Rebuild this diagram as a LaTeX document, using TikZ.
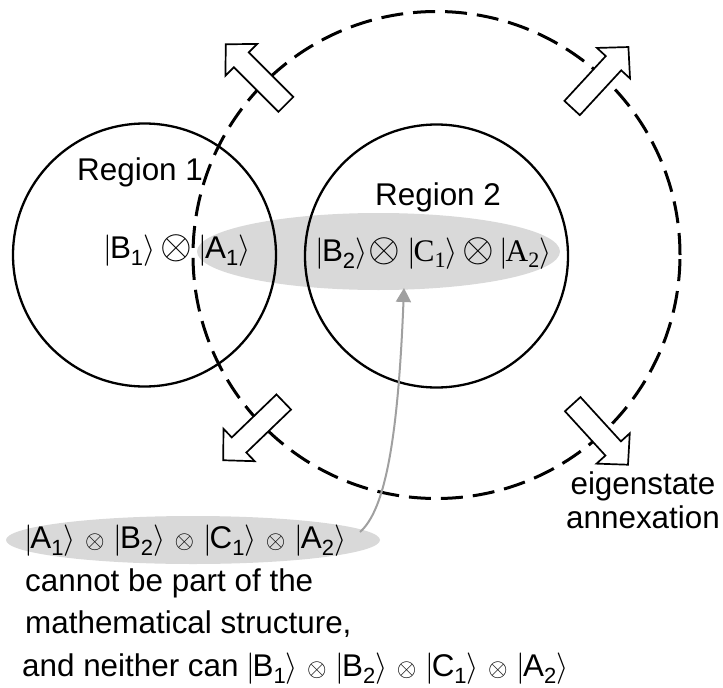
\documentclass[tikz,border=0pt]{standalone}
\DeclareFontShape{OMS}{cmsy}{m}{n}{<->cmsy10}{}
\DeclareFontShape{OMS}{cmsy}{b}{n}{<->cmbsy10}{}
\DeclareFontShape{OML}{cmm}{m}{it}{<->cmmi10}{}
\DeclareFontShape{OMX}{cmex}{m}{n}{<->cmex10}{}
\usepackage{fontspec}
\setmainfont{Liberation Sans}
\newfontfamily\seriffont{Liberation Serif}
\usepackage{graphicx}
\usetikzlibrary{arrows.meta,shapes.geometric}
\definecolor{ellgray}{RGB}{217,217,217}
\definecolor{arrgray}{RGB}{160,160,160}
\newcommand\sbs[1]{\raisebox{-0.45ex}{\fontsize{22}{22}\selectfont #1}}
\newcommand\kb[2]{\kern-1pt\relax$|$\kern-2.5pt\relax#1\sbs{#2}$\rangle$\kern-1pt\relax}
\newcommand\kbs[2]{\kern-1pt\relax$|$\kern-2.5pt\relax{\seriffont #1\sbs{#2}}$\rangle$\kern-1pt\relax}
\newcommand\sotimes{\kern1.5pt\relax\scalebox{0.8}{$\otimes$}\kern1.5pt\relax}
\newcommand\botimes{\scalebox{1.3}{$\otimes$}}
\begin{document}
\begin{tikzpicture}[x=1pt,y=-1pt,
  txt/.style={font=\fontsize{31.4}{35}\selectfont, inner sep=0pt, anchor=base west},
  grayell/.style={ellipse, fill=ellgray, inner sep=0pt},
  region/.style={circle, draw, line width=2.3pt, inner sep=0pt, minimum size=263pt},
  bigdash/.style={circle, draw, line width=3pt, dash pattern=on 22pt off 10pt, inner sep=0pt, minimum size=487pt},
  blockarr/.style={draw, fill=white, line width=1.7pt, line join=miter},
  conn/.style={draw=arrgray, line width=2pt, -{Triangle[width=15pt,length=14pt,fill=arrgray]}}]
\useasboundingbox (0,0) rectangle (723,688);
% gray ellipses
\node[grayell, minimum width=363pt, minimum height=77pt] (topell) at (378.5,251.5) {};
\node[grayell, minimum width=374pt, minimum height=48pt] (botell) at (193,540) {};
% circles
\node[region] (reg1) at (144.5,255) {};
\node[region] (reg2) at (436.5,256) {};
\node[bigdash] (ann) at (436.5,255) {};
% block arrows
\foreach \ang/\ra/\rb in {135/213/298, 47.3/200/283, 223.9/212/296, 312.4/202/284}
  \draw[blockarr, shift={(436.5,255)}, rotate=\ang]
    (\ra,-10.5) -- (\rb-22,-10.5) -- (\rb-22,-22.5) -- (\rb,0) -- (\rb-22,22.5) -- (\rb-22,10.5) -- (\ra,10.5) -- cycle;
% texts
\node[txt] (lbl1) at (77,180) {Region 1};
\node[txt] (lbl2) at (375,205) {Region 2};
\node[txt] (s1) at (104.6,258) {\kb{B}{1}\kern6.5pt\botimes\kern7.2pt\kb{A}{1}};
\node[txt] (s2) at (316.6,261) {\kb{B}{2}\kern2pt\botimes\kern8.3pt\kbs{C}{1}\kern5.7pt\botimes\kern6.2pt\kbs{A}{2}};
\node[txt] (s3) at (25,548) {\kb{A}{1} \sotimes{} \kb{B}{2} \sotimes{} \kb{C}{1} \sotimes{} \kb{A}{2}};
\node[txt] (l2) at (25,591) {cannot be part of the};
\node[txt] (l3) at (25,633) {mathematical structure,};
\node[txt] (l4) at (22,676) {and neither can \kb{B}{1} \sotimes{} \kb{B}{2} \sotimes{} \kb{C}{1} \sotimes{} \kb{A}{2}};
\node[txt, anchor=base] (eig1) at (643,494) {eigenstate};
\node[txt, anchor=base] (eig2) at (643,528) {annexation};
% connector
\coordinate (cs) at (360,532);
\coordinate (ce) at (404,288);
\draw[conn] (cs) .. controls (385,510) and (398,440) .. (ce);
\end{tikzpicture}
\end{document}
